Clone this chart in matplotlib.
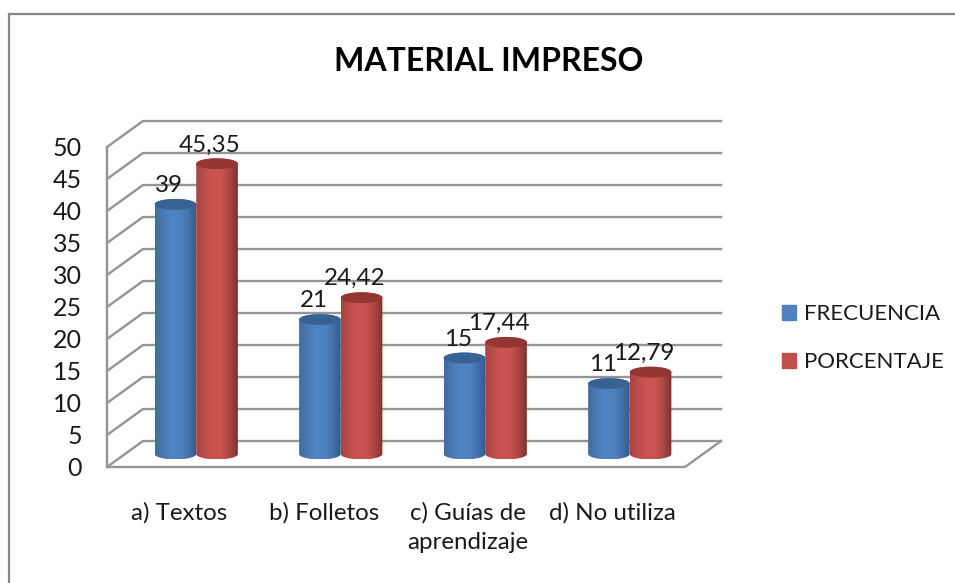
import numpy as np
import matplotlib
matplotlib.use('Agg')
import matplotlib.pyplot as plt
from matplotlib.colors import LinearSegmentedColormap
from matplotlib.lines import Line2D
from matplotlib.patches import Patch, PathPatch
from matplotlib.path import Path

plt.rcParams['font.family'] = ['Lato', 'DejaVu Sans']

categories = ['a) Textos', 'b) Folletos', 'c) Guías de\naprendizaje', 'd) No utiliza']
frecuencia = [39, 21, 15, 11]
porcentaje = [45.35, 24.42, 17.44, 12.79]
frecuencia_labels = ['39', '21', '15', '11']
porcentaje_labels = ['45,35', '24,42', '17,44', '12,79']
y_ticks = [0, 5, 10, 15, 20, 25, 30, 35, 40, 45, 50]

title = 'MATERIAL IMPRESO'
series_names = ['FRECUENCIA', 'PORCENTAJE']

GRID = '#959595'
TEXT = '#1a1a1a'
DEPTH_X = 36 / 144.5   # depth of the 3d box in category units
DEPTH_Y = 26 / 6.4     # and in value units
BAR_W = 0.288
ELL_H = 0.85

blue_cmap = LinearSegmentedColormap.from_list('b', ['#3f6ca3', '#4a79b4', '#5285c6', '#5082c0', '#4674ac', '#34598a'])
red_cmap = LinearSegmentedColormap.from_list('r', ['#a84442', '#bb4e4b', '#cc5552', '#c95350', '#ad4744', '#7f312f'])


def cylinder(ax, xc, value, cmap, top_color, zorder):
	left = xc - BAR_W / 2
	right = xc + BAR_W / 2
	y0 = DEPTH_Y / 2
	y1 = y0 + value
	t = np.linspace(0, np.pi, 40)
	xs = xc - np.cos(t) * BAR_W / 2
	low = y0 - np.sin(t) * ELL_H
	high = y1 + np.sin(t) * ELL_H
	verts = list(zip(xs, low)) + list(zip(xs[::-1], high[::-1])) + [(left, low[0])]
	body = PathPatch(Path(verts, closed=True), transform=ax.transData, fc='none', ec='none')
	ax.add_patch(body)
	grad = np.linspace(0, 1, 64).reshape(1, -1)
	im = ax.imshow(grad, cmap=cmap, extent=(left, right, y0 - ELL_H, y1 + ELL_H),
		aspect='auto', zorder=zorder, clip_on=True)
	im.set_clip_path(body)
	t2 = np.linspace(0, 2 * np.pi, 80)
	ax.fill(xc + np.cos(t2) * BAR_W / 2, y1 + np.sin(t2) * ELL_H, color=top_color,
		lw=0, zorder=zorder + 0.1, clip_on=False)


fig = plt.figure(figsize=(9.55, 5.83), dpi=100, facecolor='white')
ax = fig.add_axes([107 / 955, 116 / 583, 578 / 955, 320 / 583])
ax.patch.set_alpha(0)

n = len(categories)

# box of the chart, every line starts on the front plane
for v in y_ticks:
	ax.plot([0, DEPTH_X, n + DEPTH_X], [v, v + DEPTH_Y, v + DEPTH_Y], color=GRID, lw=1.7,
		clip_on=False, zorder=1, solid_joinstyle='miter')
ax.plot([0, 0, n, n + DEPTH_X], [y_ticks[-1], 0, 0, DEPTH_Y], color=GRID, lw=1.7,
	clip_on=False, zorder=1, solid_joinstyle='miter')

for i in range(n):
	center = i + 0.5 + DEPTH_X / 2 - 0.007
	cylinder(ax, center - 0.144, frecuencia[i], blue_cmap, '#386293', 3)
	cylinder(ax, center + 0.144, porcentaje[i], red_cmap, '#943634', 4)
	ax.annotate(frecuencia_labels[i], (center - 0.144, frecuencia[i] + DEPTH_Y / 2),
		xytext=(-6 * 0.72, 13.6), textcoords='offset points', ha='center', va='center',
		fontsize=17.4, color=TEXT, zorder=6, annotation_clip=False)
	ax.annotate(porcentaje_labels[i], (center + 0.144, porcentaje[i] + DEPTH_Y / 2),
		xytext=(-7 * 0.72, 13.6), textcoords='offset points', ha='center', va='center',
		fontsize=17.4, color=TEXT, zorder=6, annotation_clip=False)

ax.set_xlim(0, n)
ax.set_ylim(0, 50)
ax.set_xticks(np.arange(n) + 0.5)
ax.set_xticklabels(categories, fontsize=17.4, color=TEXT, linespacing=1.5)
ax.set_yticks(y_ticks)
ax.set_yticklabels([str(v) for v in y_ticks], fontsize=18, color=TEXT)
ax.tick_params(axis='x', length=0, pad=25)
ax.tick_params(axis='y', length=0, pad=18)
for s in ax.spines.values():
	s.set_visible(False)

fig.text(489 / 955, 1 - 61.5 / 583, title, fontsize=23, fontweight='bold', color='black',
	ha='center', va='center')

handles = [Patch(color='#4f81bd'), Patch(color='#c0504d')]
ax.legend(handles, series_names, loc='center left', bbox_to_anchor=(782 / 955, 1 - 338 / 583),
	bbox_transform=fig.transFigure, frameon=False, fontsize=16, labelcolor=TEXT,
	handlelength=0.65, handleheight=0.65, handletextpad=0.33, labelspacing=1.25,
	borderpad=0, borderaxespad=0)

# outer frame of the pasted chart, only top and left are on the picture
fig.add_artist(Line2D([9 / 955, 9 / 955, 1], [0, 1 - 14 / 583, 1 - 14 / 583],
	color='#868686', lw=1.6, solid_joinstyle='miter'))

fig.savefig('out.png', dpi=100)
